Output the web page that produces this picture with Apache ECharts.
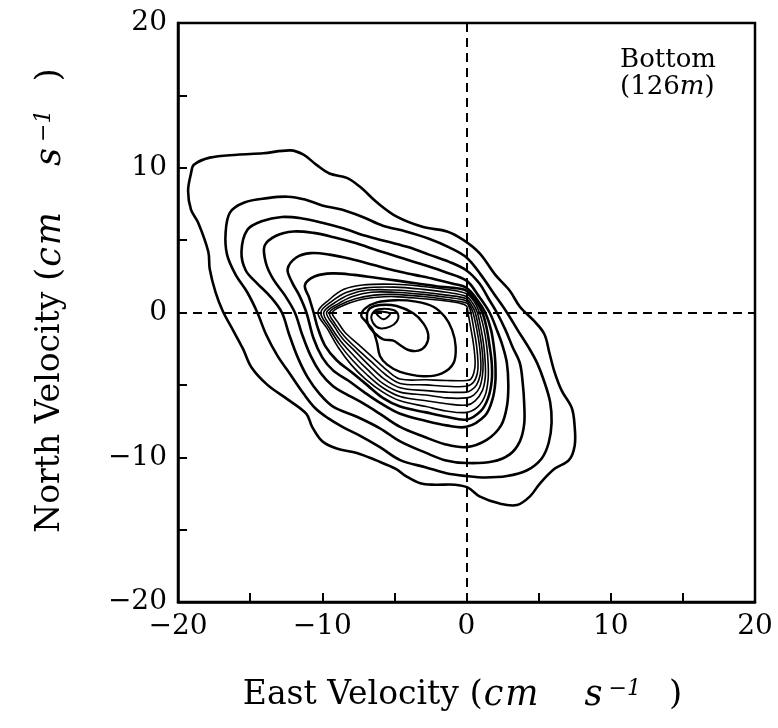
<!DOCTYPE html>
<html><head><meta charset="utf-8">
<script src="https://cdn.jsdelivr.net/npm/echarts@6/dist/echarts.min.js"></script>
<style>html,body{margin:0;padding:0;background:#fff}#c{width:778px;height:728px}</style>
</head><body><div id="c"></div>
<script>
// Axis ticks (labels only at multiples of 10)
const axisMin = -20, axisMax = 20, tickStep = 5;
const labeledTicks = [-20, -10, 0, 10, 20];

// Contour lines, outermost first, as [east, north] velocity pairs (cm/s)
const contour1 = [[-19.1,9.6],[-18.9,10.2],[-17.8,10.7],[-15.9,10.9],[-14.1,11.0],[-12.2,11.2],[-11.3,10.9],[-10.4,10.2],[-9.5,9.6],[-8.3,9.3],[-7.4,8.7],[-6.2,7.6],[-4.8,6.6],[-3.0,5.9],[-1.35,5.6],[-0.2,5.0],[0.9,4.1],[2.0,2.6],[3.0,1.5],[3.7,0.4],[4.7,-0.6],[5.4,-1.5],[5.75,-2.8],[6.1,-4.1],[6.6,-5.4],[7.3,-6.6],[7.5,-7.9],[7.5,-9.2],[7.1,-10.2],[6.1,-10.8],[5.1,-11.8],[4.4,-12.7],[3.5,-13.3],[2.3,-13.2],[0.9,-12.7],[0.1,-12.1],[-0.8,-11.9],[-2.2,-11.9],[-3.2,-11.8],[-4.2,-11.3],[-4.9,-10.8],[-6.3,-10.2],[-7.6,-9.7],[-9.0,-9.4],[-10.0,-8.9],[-10.7,-7.9],[-11.1,-7.0],[-12.4,-6.0],[-13.8,-5.0],[-14.9,-3.8],[-15.5,-2.5],[-16.2,-1.2],[-16.9,0.1],[-17.4,1.4],[-17.8,3.0],[-17.9,4.2],[-18.6,6.2],[-19.1,7.1],[-19.3,8.4]];
const contour2 = [[-16.4,6.9],[-15.4,7.6],[-13.8,7.9],[-12.4,8.0],[-11.2,7.8],[-10.0,7.4],[-8.6,7.1],[-7.2,6.6],[-5.8,6.0],[-4.2,5.6],[-2.6,5.1],[-1.2,4.5],[0.0,3.8],[1.0,2.6],[1.9,1.3],[2.8,0.0],[3.6,-1.3],[4.3,-2.4],[4.9,-3.5],[5.4,-4.8],[5.8,-6.2],[5.9,-7.6],[5.7,-9.0],[5.2,-10.1],[4.2,-10.9],[2.8,-11.3],[1.3,-11.4],[0.0,-11.3],[-1.4,-11.1],[-2.8,-10.7],[-4.6,-10.2],[-6.0,-9.3],[-7.4,-8.5],[-8.6,-7.9],[-9.6,-7.3],[-10.5,-6.6],[-11.3,-5.6],[-12.2,-4.3],[-13.1,-3.0],[-13.9,-1.5],[-14.5,0.0],[-15.2,1.4],[-16.0,2.6],[-16.6,4.0],[-16.7,5.5]];
const contour3 = [[-15.2,5.7],[-14.2,6.3],[-12.8,6.6],[-11.4,6.5],[-10.0,6.2],[-8.5,5.8],[-7.0,5.3],[-5.5,4.9],[-4.0,4.5],[-2.6,4.0],[-1.2,3.5],[0.0,2.9],[0.9,2.0],[1.5,1.0],[2.1,0.0],[2.7,-1.2],[3.2,-2.4],[3.7,-3.5],[3.9,-4.9],[4.0,-6.3],[4.0,-7.7],[3.7,-8.9],[3.0,-9.8],[1.8,-10.3],[0.0,-10.4],[-1.5,-10.2],[-2.8,-9.7],[-4.6,-8.9],[-6.0,-8.0],[-7.6,-7.2],[-9.25,-6.5],[-10.2,-5.6],[-11.0,-4.5],[-11.7,-3.1],[-12.3,-1.5],[-12.8,0.0],[-13.6,1.1],[-14.5,2.0],[-15.3,2.9],[-15.6,4.2]];
const contour4 = [[-14.0,4.6],[-13.2,5.3],[-12.0,5.6],[-10.6,5.5],[-9.2,5.2],[-7.7,4.8],[-6.2,4.3],[-4.6,3.8],[-3.0,3.3],[-1.5,2.8],[0.0,2.2],[0.8,1.2],[1.6,0.0],[2.1,-1.2],[2.5,-2.3],[2.8,-3.5],[2.9,-5.0],[2.8,-6.5],[2.4,-7.8],[1.4,-8.8],[0.0,-9.3],[-1.5,-9.1],[-2.9,-8.6],[-4.6,-7.9],[-6.0,-7.0],[-7.3,-6.2],[-8.4,-5.6],[-9.25,-5.1],[-10.1,-4.2],[-10.8,-3.0],[-11.4,-1.5],[-11.9,0.0],[-12.6,1.2],[-13.4,2.3],[-13.9,3.4]];
const contour5 = [[-12.4,3.0],[-11.8,3.8],[-10.8,4.1],[-9.5,4.0],[-8.0,3.7],[-6.5,3.3],[-5.0,2.9],[-3.6,2.6],[-2.2,2.3],[-1.0,2.0],[0.0,1.7],[0.8,0.8],[1.3,0.0],[1.7,-1.2],[1.9,-2.4],[2.0,-3.5],[2.0,-4.8],[1.8,-6.0],[1.3,-7.1],[0.0,-7.9],[-1.4,-7.8],[-2.8,-7.5],[-4.6,-7.0],[-5.9,-6.3],[-7.1,-5.5],[-8.2,-4.7],[-9.25,-4.0],[-10.0,-3.1],[-10.6,-1.8],[-11.1,0.0],[-11.6,1.2],[-12.1,2.1]];
const contour6 = [[-11.2,1.9],[-10.5,2.5],[-9.3,2.7],[-7.8,2.6],[-6.3,2.4],[-4.8,2.2],[-3.4,2.0],[-2.0,1.8],[-0.9,1.7],[0.0,1.5],[0.7,0.7],[1.1,0.0],[1.4,-1.1],[1.6,-2.3],[1.75,-3.5],[1.75,-4.7],[1.5,-5.9],[1.0,-6.8],[0.0,-7.4],[-1.4,-7.2],[-2.8,-6.9],[-4.6,-6.5],[-5.8,-5.9],[-6.9,-5.0],[-8.0,-4.1],[-9.0,-3.3],[-9.8,-2.3],[-10.3,-1.1],[-10.6,0.0],[-10.9,1.0]];
const contour7 = [[-10.3,0.0],[-9.5,0.9],[-8.5,1.6],[-7.2,1.9],[-5.0,1.95],[-3.0,1.8],[-1.4,1.6],[0.0,1.3],[0.5,0.8],[0.9,0.0],[1.2,-1.1],[1.4,-2.3],[1.5,-3.5],[1.5,-4.6],[1.3,-5.7],[0.8,-6.5],[0.0,-6.9],[-1.4,-6.8],[-2.8,-6.5],[-4.6,-6.1],[-5.8,-5.5],[-7.0,-4.6],[-8.0,-3.6],[-8.9,-2.4],[-9.6,-1.2]];
const contour8 = [[-10.1,0.0],[-9.3,0.8],[-8.3,1.4],[-7.0,1.7],[-5.0,1.75],[-3.0,1.6],[-1.4,1.4],[0.0,1.1],[0.45,0.6],[0.75,0.0],[1.0,-1.1],[1.2,-2.3],[1.3,-3.5],[1.3,-4.5],[1.1,-5.4],[0.6,-6.1],[0.0,-6.4],[-1.4,-6.3],[-2.8,-6.1],[-4.6,-5.8],[-5.8,-5.2],[-6.9,-4.3],[-7.9,-3.3],[-8.8,-2.2],[-9.5,-1.1]];
const contour9 = [[-9.9,0.0],[-9.1,0.7],[-8.1,1.25],[-6.8,1.55],[-5.0,1.55],[-3.0,1.4],[-1.4,1.2],[0.0,0.95],[0.35,0.5],[0.6,0.0],[0.85,-1.1],[1.05,-2.3],[1.15,-3.5],[1.1,-4.4],[0.9,-5.2],[0.5,-5.7],[0.0,-5.9],[-1.4,-5.9],[-2.8,-5.7],[-4.6,-5.5],[-5.8,-4.9],[-6.8,-4.0],[-7.8,-3.0],[-8.7,-2.0],[-9.4,-1.0]];
const contour10 = [[-9.7,0.0],[-8.9,0.6],[-7.9,1.1],[-6.6,1.4],[-5.0,1.4],[-3.0,1.25],[-1.4,1.05],[0.0,0.8],[0.25,0.45],[0.45,0.0],[0.7,-1.1],[0.9,-2.3],[1.0,-3.5],[0.95,-4.3],[0.7,-5.0],[0.35,-5.35],[0.0,-5.5],[-1.4,-5.5],[-2.8,-5.4],[-4.6,-5.2],[-5.7,-4.6],[-6.7,-3.7],[-7.7,-2.7],[-8.6,-1.8],[-9.2,-0.9]];
const contour11 = [[-9.5,0.0],[-8.7,0.55],[-7.7,0.95],[-6.4,1.2],[-5.0,1.25],[-3.0,1.1],[-1.4,0.9],[0.0,0.65],[0.2,0.35],[0.3,0.0],[0.5,-1.1],[0.7,-2.3],[0.8,-3.5],[0.75,-4.2],[0.5,-4.8],[0.0,-5.1],[-1.4,-5.1],[-2.8,-5.0],[-4.6,-4.9],[-5.6,-4.3],[-6.6,-3.4],[-7.6,-2.5],[-8.5,-1.6],[-9.1,-0.8]];
const contour12 = [[-9.3,0.0],[-8.5,0.5],[-7.5,0.85],[-6.2,1.05],[-5.0,1.1],[-3.0,0.95],[-1.4,0.8],[-0.5,0.65],[0.0,0.45],[0.1,0.0],[0.3,-1.1],[0.5,-2.3],[0.6,-3.5],[0.5,-4.2],[0.3,-4.6],[0.0,-4.7],[-1.4,-4.7],[-2.8,-4.65],[-4.6,-4.6],[-5.5,-4.0],[-6.5,-3.1],[-7.5,-2.2],[-8.4,-1.4],[-8.9,-0.7]];
const contour13 = [[-7.3,-0.2],[-7.0,0.3],[-6.2,0.7],[-4.9,0.85],[-3.5,0.75],[-2.3,0.4],[-1.5,-0.3],[-1.0,-1.2],[-0.75,-2.35],[-0.9,-3.5],[-1.7,-4.2],[-3.0,-4.4],[-4.6,-4.1],[-5.5,-3.6],[-6.0,-3.0],[-6.2,-2.1],[-6.5,-1.2],[-7.0,-0.6]];
const contour14 = [[-6.9,-0.17],[-6.69,0.29],[-5.99,0.52],[-4.84,0.45],[-3.69,-0.06],[-2.99,-0.75],[-2.65,-1.55],[-2.81,-2.25],[-3.34,-2.64],[-4.03,-2.59],[-4.61,-2.25],[-5.07,-1.95],[-5.77,-1.85],[-6.34,-1.44],[-6.81,-0.86]];
const contour15 = [[-6.57,-0.17],[-6.11,0.22],[-5.07,0.17],[-4.73,-0.17],[-4.84,-0.63],[-5.30,-0.98],[-5.99,-1.09],[-6.46,-0.75]];
const contour16 = [[-6.27,0.06],[-5.8,0.05],[-5.3,-0.06],[-5.5,-0.35],[-5.77,-0.47],[-6.1,-0.25]];

const contours = [contour1, contour2, contour3, contour4, contour5, contour6, contour7, contour8,
  contour9, contour10, contour11, contour12, contour13, contour14, contour15, contour16];

const FONT = 'DejaVu Serif';
function fmtTick(v) {
  if (labeledTicks.indexOf(v) < 0) return '';
  return v < 0 ? '\u2212' + Math.abs(v) : String(v);
}
function strokeFor(i) {
  if (i < 6) return 2.6;
  if (i < 12) return 1.6;
  if (i < 14) return 2.4;
  return 2.0;
}
const titleRich = {
  t: { fontFamily: FONT, fontSize: 33, color: '#000' },
  p: { fontFamily: FONT, fontSize: 34, color: '#000' },
  c: { fontFamily: FONT, fontSize: 35, fontStyle: 'italic', color: '#000', padding: [0, 2, 0, 1] },
  m: { fontFamily: FONT, fontSize: 35, fontStyle: 'italic', color: '#000' },
  g1: { fontFamily: FONT, fontSize: 33, width: 46 },
  s: { fontFamily: FONT, fontSize: 35, fontStyle: 'italic', color: '#000' },
  sup: { fontFamily: FONT, fontSize: 22, fontStyle: 'italic', color: '#000', verticalAlign: 'top', padding: [0, 0, 0, 6] },
  g2: { fontFamily: FONT, fontSize: 33, width: 28 }
};
function unitTitle(word) {
  return '{t|' + word + ' }{p|(}{c|c}{m|m}{g1| }{s|s}{sup|\u22121}{g2| }{p|)}';
}

const chart = echarts.init(document.getElementById('c'));
const axisCommon = {
  type: 'value', min: axisMin, max: axisMax, interval: tickStep,
  axisLine: { show: true, onZero: false, lineStyle: { color: '#000', width: 2.5 } },
  axisTick: { show: true, inside: true, length: 9, lineStyle: { color: '#000', width: 2 } },
  splitLine: { show: false },
  axisLabel: { formatter: fmtTick, fontFamily: FONT, fontSize: 28, color: '#000', margin: 11 },
  nameLocation: 'middle'
};
const option = {
  animation: false,
  backgroundColor: '#fff',
  grid: { left: 178, right: 23, top: 23, bottom: 126, show: true, borderColor: '#000', borderWidth: 2.5, backgroundColor: 'transparent' },
  xAxis: Object.assign({}, axisCommon, {
    name: unitTitle('East Velocity'),
    nameGap: 76,
    nameTextStyle: { color: '#000', rich: titleRich, padding: [0, 8, 0, 0] }
  }),
  yAxis: Object.assign({}, axisCommon, {
    name: unitTitle('North Velocity'),
    nameGap: 110, nameRotate: 90,
    nameTextStyle: { color: '#000', rich: titleRich, padding: [0, 0, 0, 24] }
  }),
  graphic: [{
    type: 'text', right: 62, top: 47,
    style: {
      text: '{a|Bottom}\n{a|(126}{b|m}{a|)}',
      rich: {
        a: { fontFamily: FONT, fontSize: 26, fill: '#000', lineHeight: 27 },
        b: { fontFamily: FONT, fontSize: 26, fontStyle: 'italic', fill: '#000', lineHeight: 27 }
      }
    }
  }],
  series: [{
    type: 'custom',
    coordinateSystem: 'cartesian2d',
    silent: true,
    data: contours.map(c => c[0]),
    renderItem: function (params, api) {
      const pts = contours[params.dataIndex].map(p => api.coord(p));
      return {
        type: 'polygon',
        shape: { points: pts, smooth: 0.35 },
        style: { fill: 'none', stroke: '#000', lineWidth: strokeFor(params.dataIndex) }
      };
    },
    markLine: {
      silent: true, symbol: 'none', label: { show: false },
      lineStyle: { color: '#000', width: 2, type: [9, 6] },
      data: [{ xAxis: 0 }, { yAxis: 0 }]
    }
  }]
};
chart.setOption(option);
</script></body></html>
